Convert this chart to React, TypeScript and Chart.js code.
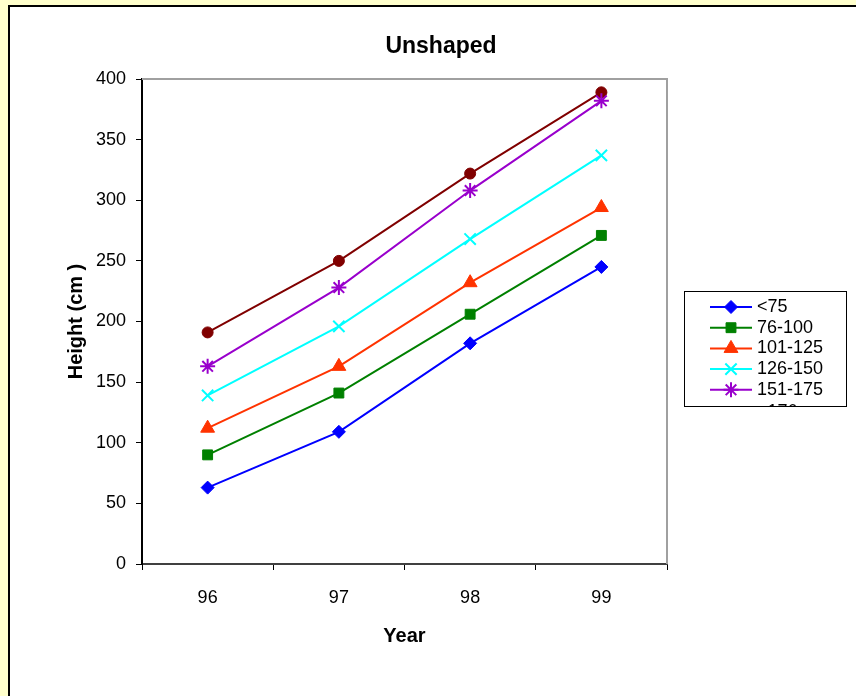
import React, { useEffect, useRef } from "react";
import { Chart, registerables } from "chart.js";
import { drawPoint } from "chart.js/helpers";

Chart.register(...registerables);

const years = ["96", "97", "98", "99"];
const seriesNames = ["<75", "76-100", "101-125", "126-150", "151-175", ">176"];
const lt75 = [63, 109, 182, 245];
const s76to100 = [90, 141, 206, 271];
const s101to125 = [112, 163, 232, 294];
const s126to150 = [139, 196, 268, 337];
const s151to175 = [163, 228, 308, 382];
const gt176 = [191, 250, 322, 389];
const chartTitle = "Unshaped";
const xTitle = "Year";
const yTitle = "Height (cm )";

const FONT = "'Liberation Sans', Arial, sans-serif";

const styles = [
  { color: "#0000FF", point: "rectRot", radius: 6.5, bw: 1 },
  { color: "#008000", point: "rect", radius: 7, bw: 1 },
  { color: "#FF3300", point: "triangle", radius: 8, bw: 1 },
  { color: "#00FFFF", point: "crossRot", radius: 8, bw: 2 },
  { color: "#9900CC", point: "star", radius: 7.5, bw: 2 },
  { color: "#800000", point: "circle", radius: 5.5, bw: 1 },
];

const values = [lt75, s76to100, s101to125, s126to150, s151to175, gt176];

const framePlugin = {
  id: "frame",
  beforeDraw(chart: any) {
    const { ctx, width, height } = chart;
    ctx.save();
    ctx.fillStyle = "#FFFFCC";
    ctx.fillRect(0, 0, width, height);
    ctx.fillStyle = "#FFFFFF";
    ctx.fillRect(8, 6, width - 8, height - 6);
    ctx.strokeStyle = "#000";
    ctx.lineWidth = 2;
    ctx.beginPath();
    ctx.moveTo(9, height);
    ctx.lineTo(9, 6);
    ctx.lineTo(width, 6);
    ctx.stroke();
    ctx.restore();
  },
  beforeDatasetsDraw(chart: any) {
    const { ctx, chartArea } = chart;
    ctx.save();
    ctx.strokeStyle = "#A0A0A0";
    ctx.lineWidth = 2;
    ctx.beginPath();
    ctx.moveTo(chartArea.left, chartArea.top);
    ctx.lineTo(chartArea.right, chartArea.top);
    ctx.lineTo(chartArea.right, chartArea.bottom);
    ctx.stroke();
    ctx.restore();
  },
  afterDraw(chart: any) {
    const { ctx } = chart;
    ctx.save();
    // title
    ctx.fillStyle = "#000";
    ctx.font = `bold 23px ${FONT}`;
    ctx.textAlign = "center";
    ctx.textBaseline = "middle";
    ctx.fillText(chartTitle, 441, 47);
    // legend
    const bx = 684.5, by = 291.5, bw = 162, bh = 115;
    ctx.fillStyle = "#FFF";
    ctx.fillRect(bx, by, bw, bh);
    ctx.save();
    ctx.beginPath();
    ctx.rect(bx, by, bw, bh);
    ctx.clip();
    chart.data.datasets.forEach((ds: any, i: number) => {
      const y = 307 + i * 20.7;
      ctx.strokeStyle = ds.borderColor;
      ctx.lineWidth = 2;
      ctx.beginPath();
      ctx.moveTo(710, y);
      ctx.lineTo(752, y);
      ctx.stroke();
      ctx.fillStyle = ds.pointBackgroundColor;
      ctx.strokeStyle = ds.pointBorderColor;
      ctx.lineWidth = ds.pointBorderWidth;
      drawPoint(ctx, { pointStyle: ds.pointStyle, radius: ds.pointRadius, rotation: 0, borderWidth: ds.pointBorderWidth }, 731, i === 5 ? y + 5 : y);
      ctx.fillStyle = "#000";
      ctx.font = `18px ${FONT}`;
      ctx.textAlign = "left";
      ctx.textBaseline = "middle";
      ctx.fillText(ds.label, 757, i === 5 ? y + 2 : y);
    });
    ctx.restore();
    ctx.strokeStyle = "#000";
    ctx.lineWidth = 1;
    ctx.strokeRect(bx, by, bw, bh);
    ctx.restore();
  },
};

export default function App() {
  const ref = useRef<HTMLCanvasElement>(null);
  useEffect(() => {
    if (!ref.current) return;
    const chart = new Chart(ref.current, {
      type: "line",
      data: {
        labels: years,
        datasets: values.map((v, i) => ({
          label: seriesNames[i],
          data: v,
          borderColor: styles[i].color,
          backgroundColor: styles[i].color,
          pointBackgroundColor: styles[i].color,
          pointBorderColor: styles[i].color,
          pointBorderWidth: styles[i].bw,
          pointStyle: styles[i].point as any,
          pointRadius: styles[i].radius,
          borderWidth: 2,
          tension: 0,
          fill: false,
        })),
      },
      options: {
        responsive: false,
        animation: false,
        devicePixelRatio: 1,
        layout: { padding: { left: 0, top: 79, right: 189, bottom: 0 } },
        plugins: {
          legend: { display: false },
          title: { display: false },
          tooltip: { enabled: false },
        },
        scales: {
          x: {
            type: "category",
            offset: true,
            afterFit: (s: any) => { s.height = 132; },
            grid: { offset: true, drawOnChartArea: false, drawTicks: true, tickLength: 6, color: "#000", tickColor: "#000" },
            border: { display: true, color: "#404040", width: 2 },
            ticks: { color: "#000", font: { family: FONT, size: 18 }, padding: 17, maxRotation: 0 },
            title: { display: true, text: xTitle, color: "#000", font: { family: FONT, size: 20, weight: "bold" }, padding: { top: 0, bottom: 48 } },
          },
          y: {
            min: 0,
            max: 400,
            afterFit: (s: any) => { s.width = 142; },
            grid: { drawOnChartArea: false, drawTicks: true, tickLength: 6, color: "#000", tickColor: "#000" },
            border: { display: true, color: "#000", width: 2 },
            ticks: { stepSize: 50, color: "#000", font: { family: FONT, size: 18 }, padding: 10 },
            title: { display: true, text: yTitle, color: "#000", font: { family: FONT, size: 20, weight: "bold" }, padding: { top: 64, bottom: 0 } },
          },
        },
      },
      plugins: [framePlugin],
    });
    return () => chart.destroy();
  }, []);
  return (
    <canvas
      ref={ref}
      width={856}
      height={696}
      style={{ position: "fixed", left: 0, top: 0, width: 856, height: 696, display: "block" }}
    />
  );
}
